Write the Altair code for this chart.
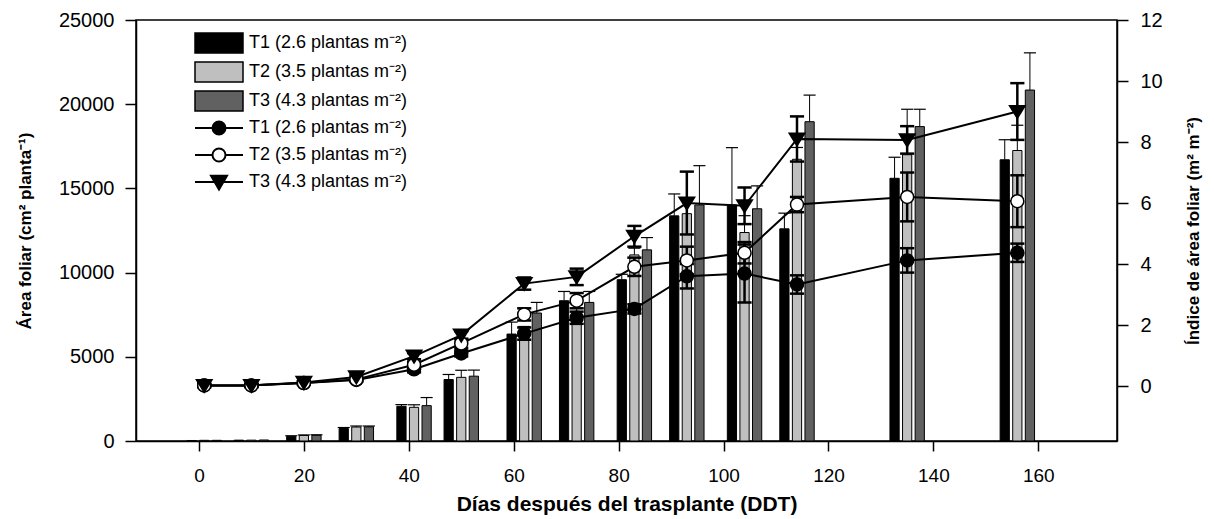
import json

import altair as alt
import pandas as pd

# Días después del trasplante (DDT) de cada muestreo
dias = [1, 10, 20, 30, 41, 50, 62, 72, 83, 93, 104, 114, 135, 156]

etiquetas = ["T1 (2.6 plantas m⁻²)", "T2 (3.5 plantas m⁻²)", "T3 (4.3 plantas m⁻²)"]
series = ["T1", "T2", "T3"]

# Área foliar (cm² planta⁻¹) por tratamiento y su error estándar
af_t1 = [30, 50, 280, 740, 2060, 3650, 6350, 8330, 9580, 13370, 14020, 12600, 15600, 16700]
af_t2 = [40, 50, 330, 830, 2000, 3780, 6000, 7300, 11050, 13500, 12380, 16730, 17000, 17250]
af_t3 = [40, 60, 340, 840, 2100, 3850, 7600, 8230, 11350, 14020, 13790, 18960, 18670, 20840]
af_err_t1 = [0, 0, 30, 60, 100, 300, 710, 550, 320, 1300, 3400, 930, 1250, 1190]
af_err_t2 = [0, 0, 30, 60, 150, 420, 800, 800, 400, 900, 1000, 700, 2700, 1500]
af_err_t3 = [0, 0, 30, 50, 480, 360, 630, 650, 730, 2330, 1360, 1580, 1030, 2210]

# Índice de área foliar (m² m⁻²) por tratamiento y su error estándar
iaf_t1 = [0.02, 0.02, 0.10, 0.20, 0.55, 1.07, 1.72, 2.24, 2.53, 3.60, 3.69, 3.33, 4.12, 4.37]
iaf_t2 = [0.02, 0.02, 0.10, 0.22, 0.70, 1.40, 2.35, 2.80, 3.91, 4.12, 4.37, 5.95, 6.20, 6.06]
iaf_t3 = [0.02, 0.02, 0.12, 0.30, 0.98, 1.67, 3.36, 3.58, 4.91, 6.00, 5.91, 8.10, 8.07, 9.00]
iaf_err_t1 = [0.05, 0.05, 0.05, 0.05, 0.10, 0.10, 0.20, 0.20, 0.15, 0.40, 0.95, 0.30, 0.40, 0.30]
iaf_err_t2 = [0.05, 0.05, 0.05, 0.05, 0.10, 0.15, 0.20, 0.25, 0.30, 0.45, 0.35, 0.25, 0.80, 0.85]
iaf_err_t3 = [0.05, 0.05, 0.05, 0.05, 0.10, 0.13, 0.20, 0.27, 0.34, 1.03, 0.60, 0.74, 0.45, 0.93]

af = [af_t1, af_t2, af_t3]
af_err = [af_err_t1, af_err_t2, af_err_t3]
iaf = [iaf_t1, iaf_t2, iaf_t3]
iaf_err = [iaf_err_t1, iaf_err_t2, iaf_err_t3]

filas_af = []
for i, et in enumerate(etiquetas):
    for d, v, e in zip(dias, af[i], af_err[i]):
        filas_af.append({"dia": d, "trat": et, "orden": i, "af": v, "err": e})
df_af = pd.DataFrame(filas_af)

filas_iaf = []
for i, s in enumerate(series):
    for d, v, e in zip(dias, iaf[i], iaf_err[i]):
        filas_iaf.append({"dia": d, "serie": s, "iaf": v, "err": e})
df_iaf = pd.DataFrame(filas_iaf)

FUENTE = "Liberation Sans"

# Símbolos de leyenda (trazados en unidades; escala = sqrt(size)/2)
RECT_LEY = "M-2.4,-1H2.4V1H-2.4Z"
CIRC_LEY = ("M-2.4,0H-0.65M0.65,0H2.4"
            "M-0.65,0A0.65,0.65,0,1,0,0.65,0A0.65,0.65,0,1,0,-0.65,0Z")
TRI_LEY = "M-2.4,0H2.4M-0.8,-0.62L0.8,-0.62L0,0.75Z"
TRIANGULO = "M-1.2,-0.9L1.2,-0.9L0,1.05Z"

x_scale = alt.Scale(domain=[-12, 175], nice=False, zero=False)
yl_scale = alt.Scale(domain=[0, 25000], nice=False)
yr_scale = alt.Scale(domain=[-1.8, 12], nice=False, zero=False)

# Un mismo eje x compartido por todas las capas
eje_x = alt.Axis(
    orient="bottom",
    title="Días después del trasplante (DDT)",
    values=list(range(0, 161, 20)),
    tickSize=10, labelFontSize=19, labelPadding=15,
    titleFontSize=21, titleFontWeight="bold", titlePadding=8,
)
eje_izq = alt.Axis(
    title="Área foliar (cm² planta⁻¹)",
    values=list(range(0, 25001, 5000)), format="d",
    tickSize=11, labelFontSize=20, labelPadding=11,
    titleFontSize=17, titleFontWeight="bold", titlePadding=24,
)
eje_der = alt.Axis(
    orient="right",
    title="Índice de área foliar (m² m⁻²)",
    values=list(range(0, 13, 2)),
    tickSize=11, labelFontSize=20, labelPadding=12,
    titleAngle=270, titleFontSize=17, titleFontWeight="bold", titlePadding=40,
)

leyenda_barras = alt.Legend(
    title=None, orient="none", legendX=72, legendY=12, padding=0,
    symbolType=RECT_LEY, symbolSize=400, symbolStrokeColor="black",
    symbolStrokeWidth=1.5, labelFontSize=18, labelOffset=19, rowPadding=3,
)

etiquetas_js = json.dumps(etiquetas, ensure_ascii=False)
series_js = json.dumps(series)
leyenda_lineas = alt.Legend(
    title=None, orient="none", legendX=72, legendY=97, padding=0,
    symbolSize=400, symbolStrokeWidth=2, symbolOpacity=1,
    labelFontSize=18, labelOffset=19, rowPadding=5,
    labelExpr=f"{etiquetas_js}[indexof({series_js}, datum.value)]",
)

# ---- Barras: área foliar (eje izquierdo) ----
barras_base = alt.Chart(df_af).transform_calculate(
    xc="datum.dia + (datum.orden - 1) * 2.4",
    x0="datum.xc - 0.88",
    x1="datum.xc + 0.88",
    sup="datum.af + datum.err",
    c0="datum.xc - 1.15",
    c1="datum.xc + 1.15",
)

barras = barras_base.mark_bar(stroke="black", strokeWidth=1).encode(
    x=alt.X("x0:Q", scale=x_scale, axis=eje_x),
    x2="x1:Q",
    y=alt.Y("af:Q", scale=yl_scale, axis=eje_izq),
    y2=alt.datum(0),
    fill=alt.Fill("trat:N", scale=alt.Scale(domain=etiquetas, range=["black", "#bfbfbf", "#616161"]),
                  legend=leyenda_barras),
)

err_barras = barras_base.transform_filter("datum.err > 0").mark_rule(
    color="black", strokeWidth=1
).encode(
    x=alt.X("xc:Q", scale=x_scale, axis=eje_x),
    y=alt.Y("af:Q", scale=yl_scale, axis=None),
    y2="sup:Q",
)

tapas_barras = barras_base.transform_filter("datum.err > 0").mark_rule(
    color="black", strokeWidth=1.2
).encode(
    x=alt.X("c0:Q", scale=x_scale, axis=eje_x),
    x2="c1:Q",
    y=alt.Y("sup:Q", scale=yl_scale, axis=None),
)

# ---- Líneas: índice de área foliar (eje derecho) ----
iaf_base = alt.Chart(df_iaf).transform_calculate(
    lo="datum.iaf - datum.err",
    hi="datum.iaf + datum.err",
    c0="datum.dia - 1.35",
    c1="datum.dia + 1.35",
)

lineas = iaf_base.mark_line(color="black", strokeWidth=2).encode(
    x=alt.X("dia:Q", scale=x_scale, axis=eje_x),
    y=alt.Y("iaf:Q", scale=yr_scale, axis=eje_der),
    detail="serie:N",
)

err_iaf = iaf_base.mark_rule(color="black", strokeWidth=2.5).encode(
    x=alt.X("dia:Q", scale=x_scale, axis=eje_x),
    y=alt.Y("lo:Q", scale=yr_scale, axis=None),
    y2="hi:Q",
)

tapas_iaf = iaf_base.transform_fold(["lo", "hi"], as_=["extremo", "yv"]).mark_rule(
    color="black", strokeWidth=2.5
).encode(
    x=alt.X("c0:Q", scale=x_scale, axis=eje_x),
    x2="c1:Q",
    y=alt.Y("yv:Q", scale=yr_scale, axis=None),
)

puntos = iaf_base.mark_point(
    filled=True, size=169, stroke="black", strokeWidth=1.5, opacity=1
).encode(
    x=alt.X("dia:Q", scale=x_scale, axis=eje_x),
    y=alt.Y("iaf:Q", scale=yr_scale, axis=None),
    shape=alt.Shape("serie:N", scale=alt.Scale(domain=series, range=["circle", "circle", TRIANGULO]),
                    legend=None),
    fill=alt.Fill("serie:N", scale=alt.Scale(domain=series, range=["black", "white", "black"]),
                  legend=None),
)

# ---- Leyenda de las líneas (símbolo línea + marcador) ----
capa_ley = alt.Chart(df_iaf).transform_filter("false").mark_point(
    filled=True, strokeWidth=2
).encode(
    x=alt.X("dia:Q", scale=x_scale, axis=eje_x),
    y=alt.Y("iaf:Q", scale=yr_scale, axis=None),
    shape=alt.Shape("serie:N", scale=alt.Scale(domain=series, range=[CIRC_LEY, CIRC_LEY, TRI_LEY]),
                    legend=leyenda_lineas),
    fill=alt.Fill("serie:N", scale=alt.Scale(domain=series, range=["black", "white", "black"]),
                  legend=leyenda_lineas),
    stroke=alt.Stroke("serie:N", scale=alt.Scale(domain=series, range=["black", "black", "black"]),
                      legend=leyenda_lineas),
)

chart = alt.layer(
    barras, err_barras, tapas_barras, lineas, err_iaf, tapas_iaf, puntos, capa_ley
).resolve_scale(
    y="independent", fill="independent", shape="independent", stroke="independent"
).properties(
    width=981,
    height=421,
    autosize=alt.AutoSizeParams(type="none"),
    padding={"left": 136, "top": 20, "right": 97, "bottom": 78},
).configure_axis(
    labelColor="black", titleColor="black", domainColor="black", tickColor="black",
    domainWidth=1.5, tickWidth=1.5, grid=False, labelFont=FUENTE, titleFont=FUENTE,
).configure_view(
    stroke="black", strokeWidth=1.5,
).configure_legend(
    labelFont=FUENTE, labelColor="black",
)

chart.save("out.html", embed_options={"renderer": "svg", "actions": False})
